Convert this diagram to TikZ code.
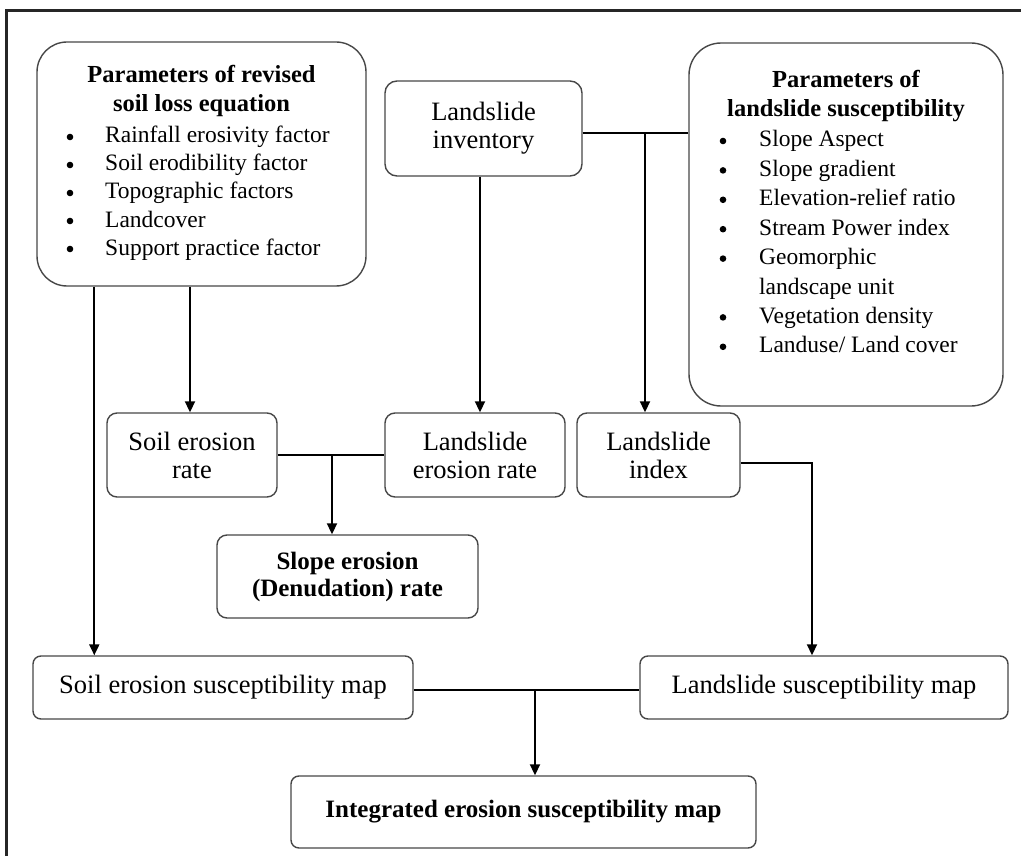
\documentclass[tikz,border=0pt]{standalone}
\usepackage{fontspec}
\setmainfont{Liberation Serif}
\usetikzlibrary{arrows.meta,calc}
\begin{document}
\begin{tikzpicture}[x=1pt,y=-1pt,
  box/.style={draw=black!72, line width=1.4pt, inner sep=0pt, align=center},
  midtxt/.style={font=\fontsize{26.5}{28}\selectfont},
  bottxt/.style={font=\fontsize{26.5}{28}\selectfont},
  headtxt/.style={inner sep=0pt, anchor=base, font=\fontsize{24.5}{29}\selectfont\bfseries},
  itemtxt/.style={inner sep=0pt, anchor=base west, font=\fontsize{23.5}{28}\selectfont},
  bul/.style={fill=black},
  lin/.style={line width=1.9pt, black},
  arr/.style={line width=1.9pt, black, -{Triangle[width=10pt,length=11pt]}}]
\useasboundingbox (0,0) rectangle (1021,856);
% outer frame (left and top edges only)
\draw[line width=3pt, black!85] (6.5,856) -- (6.5,10.5) -- (1021,10.5);

% boxes
\node[box, rounded corners=30pt, minimum width=329pt, minimum height=244pt] (rusle) at (201.5,164) {};
\node[box, rounded corners=12pt, minimum width=197pt, minimum height=95pt, midtxt] (inv) at (483.5,128.5) {Landslide\\inventory};
\node[box, rounded corners=32pt, minimum width=314pt, minimum height=363pt] (lsp) at (846,224.5) {};
\node[box, rounded corners=10pt, minimum width=170pt, minimum height=84pt, midtxt] (ser) at (192,455) {Soil erosion\\rate};
\node[box, rounded corners=10pt, minimum width=180pt, minimum height=84pt, midtxt] (ler) at (475,455) {Landslide\\erosion rate};
\node[box, rounded corners=10pt, minimum width=163pt, minimum height=84pt, midtxt] (lidx) at (658.5,455) {Landslide\\index};
\node[box, rounded corners=10pt, minimum width=261pt, minimum height=83pt, font=\fontsize{25}{27}\selectfont\bfseries] (slope) at (347.5,576.5) {Slope erosion\\(Denudation) rate};
\node[box, rounded corners=8pt, minimum width=380pt, minimum height=63pt, bottxt] (sesm) at (223,687.5) {Soil erosion susceptibility map};
\node[box, rounded corners=8pt, minimum width=368pt, minimum height=63pt, bottxt] (lsm) at (824,687.5) {Landslide susceptibility map};
\node[box, rounded corners=8pt, minimum width=465pt, minimum height=72pt, font=\fontsize{25}{27}\selectfont\bfseries] (integ) at (523.5,812) {Integrated erosion susceptibility map};

% texts of the parameter boxes
\node[headtxt] (ruh1) at (201.5,83) {Parameters of revised};
\node[headtxt] (ruh2) at (201.5,112) {soil loss equation};
\foreach \t [count=\i from 0] in {Rainfall erosivity factor, Soil erodibility factor, Topographic factors, Landcover, Support practice factor}{
  \node[itemtxt] (ru\i) at (105,{143+28*\i}) {\t};
  \fill[bul] (70,{137+28*\i}) circle (3.3pt);
}

\node[headtxt] (lsh1) at (846,88) {Parameters of};
\node[headtxt] (lsh2) at (846,117) {landslide susceptibility};
\foreach \k/\t in {0/{Slope Aspect}, 1/{Slope gradient}, 2/{Elevation-relief ratio}, 3/{Stream Power index}, 4/{Geomorphic}, 6/{Vegetation density}, 7/{Landuse/ Land cover}}{
  \node[itemtxt] (ls\k) at (759,{147+29.4*\k}) {\t};
  \fill[bul] (723,{141+29.4*\k}) circle (3.3pt);
}
\node[itemtxt] (ls5) at (759,{147+29.4*5}) {landscape unit};

% connectors
\draw[arr] ([xshift=58pt]rusle.south west) -- ([xshift=58pt]rusle.south west |- sesm.north);
\draw[arr] ([xshift=-2pt]ser.north |- rusle.south) -- ([xshift=-2pt]ser.north);
\draw[arr] ([xshift=-3.5pt]inv.south) -- ([xshift=-3.5pt]inv.south |- ler.north);

\coordinate (invr) at ([yshift=-4.5pt]inv.east);
\draw[lin] (invr) -- (invr -| lsp.west);
\coordinate (j1) at ([xshift=-13.5pt]lidx.north |- invr);
\draw[arr] (j1) -- (j1 |- lidx.north);

\draw[lin] (ser.east) -- (ler.west);
\coordinate (j2) at ([xshift=-15.5pt]slope.north |- ser.east);
\draw[arr] (j2) -- (j2 |- slope.north);

\coordinate (lidxr) at ([yshift=-8pt]lidx.east);
\draw[arr] (lidxr) -| ([xshift=-12pt]lsm.north);

\coordinate (sesmr) at ([yshift=-2.5pt]sesm.east);
\draw[lin] (sesmr) -- (sesmr -| lsm.west);
\coordinate (j3) at ([xshift=11.5pt]integ.north |- sesmr);
\draw[arr] (j3) -- (j3 |- integ.north);
\end{tikzpicture}
\end{document}
